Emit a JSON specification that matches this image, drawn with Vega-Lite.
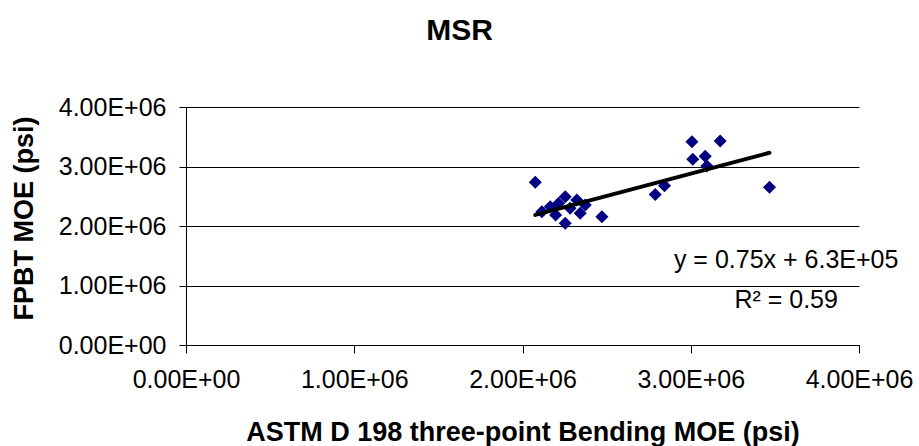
{
  "$schema": "https://vega.github.io/schema/vega-lite/v6.json",
  "width": 673,
  "height": 238,
  "autosize": {"type": "none"},
  "padding": {"left": 186, "top": 107, "right": 60, "bottom": 101},
  "background": "white",
  "title": {
    "text": "MSR",
    "font": "Liberation Sans",
    "fontSize": 30,
    "fontWeight": "bold",
    "color": "black",
    "anchor": "middle",
    "baseline": "alphabetic",
    "dx": -63,
    "offset": 25
  },
  "config": {
    "view": {"stroke": null},
    "axis": {
      "labelFont": "Liberation Sans",
      "labelFontSize": 25,
      "labelColor": "black",
      "titleFont": "Liberation Sans",
      "titleFontSize": 27,
      "titleFontWeight": "bold",
      "titleColor": "black",
      "domainColor": "black",
      "tickColor": "black",
      "gridColor": "black",
      "gridOpacity": 1
    }
  },
  "datasets": {
    "moe": [
      {"astm": 2076000, "fpbt": 2734000},
      {"astm": 3007000, "fpbt": 3417000},
      {"astm": 3175000, "fpbt": 3429000},
      {"astm": 3012000, "fpbt": 3121000},
      {"astm": 3086000, "fpbt": 3171000},
      {"astm": 3096000, "fpbt": 3010000},
      {"astm": 3468000, "fpbt": 2650000},
      {"astm": 2789000, "fpbt": 2530000},
      {"astm": 2844000, "fpbt": 2675000},
      {"astm": 2472000, "fpbt": 2156000},
      {"astm": 2254000, "fpbt": 2045000},
      {"astm": 2115000, "fpbt": 2240000},
      {"astm": 2165000, "fpbt": 2324000},
      {"astm": 2197000, "fpbt": 2185000},
      {"astm": 2254000, "fpbt": 2492000},
      {"astm": 2323000, "fpbt": 2437000},
      {"astm": 2373000, "fpbt": 2353000},
      {"astm": 2343000, "fpbt": 2213000},
      {"astm": 2214000, "fpbt": 2380000},
      {"astm": 2283000, "fpbt": 2297000}
    ],
    "trend": [
      {"astm": 2076000, "fpbt": 2187000},
      {"astm": 3468000, "fpbt": 3231000}
    ],
    "labels": [
      {"text": "y = 0.75x + 6.3E+05", "astm": 3567000, "fpbt": 1294000},
      {"text": "R² = 0.59", "astm": 3567000, "fpbt": 622000}
    ]
  },
  "layer": [
    {
      "data": {"name": "moe"},
      "mark": {"type": "point", "shape": "diamond", "filled": true, "size": 170, "color": "#000080", "opacity": 1},
      "encoding": {
        "x": {
          "field": "astm",
          "type": "quantitative",
          "scale": {"domain": [0, 4000000], "nice": false},
          "axis": {
            "values": [0, 1000000, 2000000, 3000000, 4000000],
            "labelExpr": "datum.value == 0 ? '0.00E+00' : format(datum.value / 1000000, '.2f') + 'E+06'",
            "grid": false,
            "tickSize": 8,
            "labelPadding": 14,
            "labelFlush": false,
            "labelOverlap": false,
            "title": "ASTM D 198 three-point Bending MOE (psi)",
            "titleBaseline": "alphabetic",
            "titleY": 95
          }
        },
        "y": {
          "field": "fpbt",
          "type": "quantitative",
          "scale": {"domain": [0, 4000000], "nice": false},
          "axis": {
            "values": [0, 1000000, 2000000, 3000000, 4000000],
            "labelExpr": "datum.value == 0 ? '0.00E+00' : format(datum.value / 1000000, '.2f') + 'E+06'",
            "grid": true,
            "tickSize": 7,
            "labelPadding": 13,
            "labelFlush": false,
            "labelOverlap": false,
            "title": "FPBT MOE (psi)",
            "titleAngle": -90,
            "titleAlign": "center",
            "titleBaseline": "middle",
            "titleX": -162,
            "titleY": 111
          }
        }
      }
    },
    {
      "mark": {"type": "rect", "color": "white"},
      "encoding": {
        "x": {"datum": 2878000, "type": "quantitative"},
        "x2": {"datum": 4000000},
        "y": {"datum": 500000, "type": "quantitative"},
        "y2": {"datum": 1550000}
      }
    },
    {
      "data": {"name": "trend"},
      "mark": {"type": "line", "color": "black", "strokeWidth": 4, "strokeCap": "round"},
      "encoding": {
        "x": {"field": "astm", "type": "quantitative"},
        "y": {"field": "fpbt", "type": "quantitative"}
      }
    },
    {
      "data": {"name": "labels"},
      "mark": {"type": "text", "font": "Liberation Sans", "fontSize": 25, "color": "black", "align": "center", "baseline": "alphabetic"},
      "encoding": {
        "x": {"field": "astm", "type": "quantitative"},
        "y": {"field": "fpbt", "type": "quantitative"},
        "text": {"field": "text"}
      }
    }
  ]
}
